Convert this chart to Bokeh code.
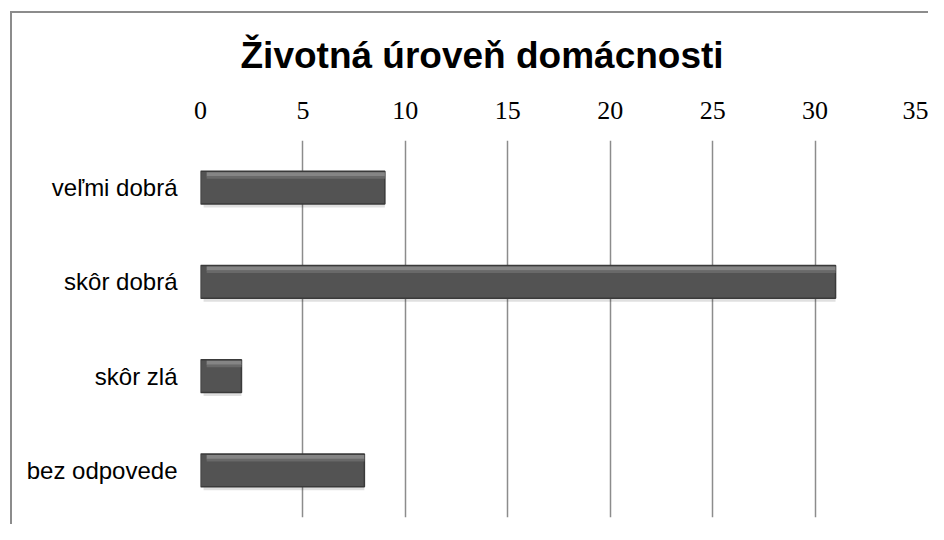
from bokeh.plotting import figure
from bokeh.models import Range1d, FixedTicker, ColumnDataSource
from bokeh.transform import dodge
from bokeh.embed import file_html
from bokeh.resources import INLINE

categories = ["veľmi dobrá", "skôr dobrá", "skôr zlá", "bez odpovede"]
values = [9, 31, 2, 8]
ticks = [0, 5, 10, 15, 20, 25, 30, 35]
title_text = "Životná úroveň domácnosti"

src = ColumnDataSource(dict(cat=categories, val=values))

p = figure(width=928, height=524, output_backend="svg", toolbar_location=None,
           y_range=list(reversed(categories)), x_range=Range1d(0, 35),
           x_axis_location="above", title=title_text,
           min_border_left=200, min_border_right=11, min_border_top=140, min_border_bottom=7)

# outer chart border: left and top edges (the rest falls outside the crop)
p.styles = {
    "background": ("linear-gradient(#8c8c8c, #8c8c8c) 10px 11px / 2px 100% no-repeat, "
                   "linear-gradient(#8c8c8c, #8c8c8c) 10px 11px / 100% 2px no-repeat, white"),
}

p.title.align = "left"
p.title.text_font = "Liberation Sans"
p.title.text_font_style = "bold"
p.title.text_font_size = "37px"
p.title.text_color = "black"
p.title.offset = 40
p.title.standoff = 45

p.outline_line_color = None
p.background_fill_color = "white"
p.border_fill_color = "white"
p.border_fill_alpha = 0

p.xaxis.ticker = FixedTicker(ticks=ticks)
p.xaxis.axis_line_color = None
p.xaxis.major_tick_line_color = None
p.xaxis.minor_tick_line_color = None
p.xaxis.major_label_text_font = "Liberation Serif"
p.xaxis.major_label_text_font_size = "26px"
p.xaxis.major_label_text_color = "black"
p.xaxis.major_label_standoff = 16

p.yaxis.axis_line_color = None
p.yaxis.major_tick_line_color = None
p.yaxis.minor_tick_line_color = None
p.yaxis.major_label_text_font = "Liberation Sans"
p.yaxis.major_label_text_font_size = "24px"
p.yaxis.major_label_text_color = "black"
p.yaxis.major_label_standoff = 17

p.xgrid.ticker = FixedTicker(ticks=ticks)
p.xgrid.grid_line_color = "#8c8c8c"
p.xgrid.grid_line_width = 1.5
p.ygrid.grid_line_color = None

# shadow
p.hbar(y=dodge("cat", -0.03, range=p.y_range), left=0.15, right="val", height=0.36,
       source=src, fill_color="black", fill_alpha=0.12, line_color=None)
# body
p.hbar(y="cat", left=0, right="val", height=0.35, source=src,
       fill_color="#535353", line_color="#3a3a3a", line_width=1.5)
# bevel highlight near the top edge
p.hbar(y=dodge("cat", 0.14, range=p.y_range), left=0.3, right="val", height=0.045,
       source=src, fill_color="#858585", line_color=None)
p.hbar(y=dodge("cat", 0.108, range=p.y_range), left=0.3, right="val", height=0.03,
       source=src, fill_color="#696969", line_color=None)

open("out.html", "w").write(file_html(p, INLINE))
